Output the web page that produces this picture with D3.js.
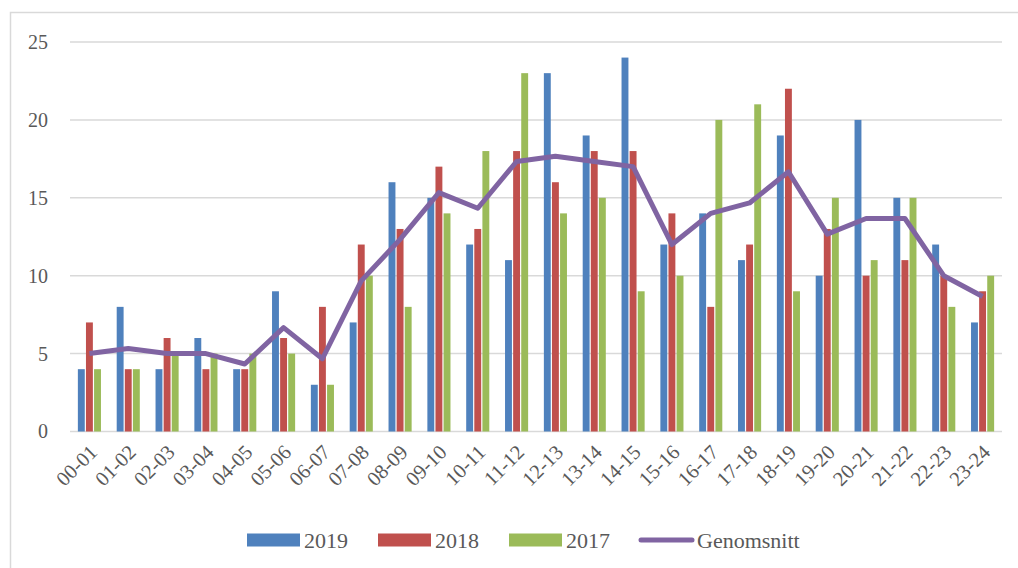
<!DOCTYPE html>
<html>
<head>
<meta charset="utf-8">
<script src="https://cdn.jsdelivr.net/npm/d3@7"></script>
<style>
  body { margin: 0; background: #fff; }
  text { font-family: "Liberation Serif", "DejaVu Serif", serif; fill: #595959; }
</style>
</head>
<body>
<div id="chart"></div>
<script>
var hours = ['00-01','01-02','02-03','03-04','04-05','05-06','06-07','07-08','08-09','09-10','10-11','11-12',
             '12-13','13-14','14-15','15-16','16-17','17-18','18-19','19-20','20-21','21-22','22-23','23-24']
var y2019 = [4, 8, 4, 6, 4, 9, 3, 7, 16, 15, 12, 11, 23, 19, 24, 12, 14, 11, 19, 10, 20, 15, 12, 7]
var y2018 = [7, 4, 6, 4, 4, 6, 8, 12, 13, 17, 13, 18, 16, 18, 18, 14, 8, 12, 22, 13, 10, 11, 10, 9]
var y2017 = [4, 4, 5, 5, 5, 5, 3, 10, 8, 14, 18, 23, 14, 15, 9, 10, 20, 21, 9, 15, 11, 15, 8, 10]
var average = [5, 5.33, 5, 5, 4.33, 6.67, 4.67, 9.67, 12.33, 15.33, 14.33, 17.33,
               17.67, 17.33, 17, 12, 14, 14.67, 16.67, 12.67, 13.67, 13.67, 10, 8.67]
var yTicks = [0, 5, 10, 15, 20, 25]

var series = [
  {name: '2019', values: y2019, color: '#4F81BD'},
  {name: '2018', values: y2018, color: '#C0504D'},
  {name: '2017', values: y2017, color: '#9BBB59'}
]
var lineColor = '#8064A2'

var width = 1018, height = 568
var plot = {left: 70, right: 1002, top: 42, bottom: 431.5}

var svg = d3.select('#chart')
  .append('svg')
    .attr('width', width)
    .attr('height', height)

// chart border
svg.append('rect')
    .attr('x', 10.5).attr('y', 12.5)
    .attr('width', width + 10).attr('height', height + 10)
    .attr('fill', 'none')
    .attr('stroke', '#d9d9d9')
    .attr('stroke-width', 1.5)

var x = d3.scaleBand()
    .domain(hours)
    .range([plot.left, plot.right])

var y = d3.scaleLinear()
    .domain([0, 25])
    .range([plot.bottom, plot.top])

// gridlines
svg.append('g')
  .selectAll('line')
  .data(yTicks)
  .join('line')
    .attr('x1', plot.left).attr('x2', plot.right)
    .attr('y1', function(d){ return y(d) }).attr('y2', function(d){ return y(d) })
    .attr('stroke', '#d9d9d9')
    .attr('stroke-width', 1.5)

// y axis labels
var yAxis = svg.append('g')
    .attr('transform', 'translate(' + 48 + ',0)')
    .call(d3.axisLeft(y).tickValues(yTicks).tickSize(0).tickPadding(0))
yAxis.select('.domain').remove()
yAxis.selectAll('text')
    .attr('font-size', 20)
    .attr('fill', '#595959')
    .style('font-family', '"Liberation Serif", serif')

// bars
var pitch = 8.1
var barW = 6.9
series.forEach(function(s, i){
  svg.append('g')
    .selectAll('rect')
    .data(s.values)
    .join('rect')
      .attr('x', function(d, j){ return x(hours[j]) + x.bandwidth()/2 - 1.5*pitch + i*pitch + (pitch - barW)/2 })
      .attr('y', function(d){ return y(d) })
      .attr('width', barW)
      .attr('height', function(d){ return y(0) - y(d) })
      .attr('fill', s.color)
})

// average line
var line = d3.line()
    .x(function(d, j){ return x(hours[j]) + x.bandwidth()/2 })
    .y(function(d){ return y(d) })

svg.append('path')
    .datum(average)
    .attr('d', line)
    .attr('fill', 'none')
    .attr('stroke', lineColor)
    .attr('stroke-width', 5)
    .attr('stroke-linejoin', 'round')

// x axis labels
var xAxis = svg.append('g')
    .attr('transform', 'translate(0,' + plot.bottom + ')')
    .call(d3.axisBottom(x).tickSize(0).tickPadding(0))
xAxis.select('.domain').remove()
xAxis.selectAll('text')
    .attr('font-size', 20.5)
    .attr('fill', '#595959')
    .style('font-family', '"Liberation Serif", serif')
    .attr('text-anchor', 'end')
    .attr('dy', 0)
    .attr('y', 0)
    .attr('transform', 'translate(9,22) rotate(-45)')

// legend
var legendItems = [
  {name: '2019', color: series[0].color, type: 'bar', x: 247},
  {name: '2018', color: series[1].color, type: 'bar', x: 378},
  {name: '2017', color: series[2].color, type: 'bar', x: 509},
  {name: 'Genomsnitt', color: lineColor, type: 'line', x: 639}
]
var legend = svg.append('g')
var item = legend.selectAll('g')
  .data(legendItems)
  .join('g')
    .attr('transform', function(d){ return 'translate(' + d.x + ',540)' })

item.filter(function(d){ return d.type === 'bar' })
  .append('rect')
    .attr('x', 0).attr('y', -6.5)
    .attr('width', 53).attr('height', 13)
    .attr('fill', function(d){ return d.color })

item.filter(function(d){ return d.type === 'line' })
  .append('line')
    .attr('x1', 2).attr('x2', 53)
    .attr('y1', 0).attr('y2', 0)
    .attr('stroke', function(d){ return d.color })
    .attr('stroke-width', 5)
    .attr('stroke-linecap', 'round')

item.append('text')
    .attr('x', function(d){ return d.type === 'bar' ? 57 : 58 })
    .attr('y', 7.5)
    .attr('font-size', 22)
    .text(function(d){ return d.name })
</script>
</body>
</html>
